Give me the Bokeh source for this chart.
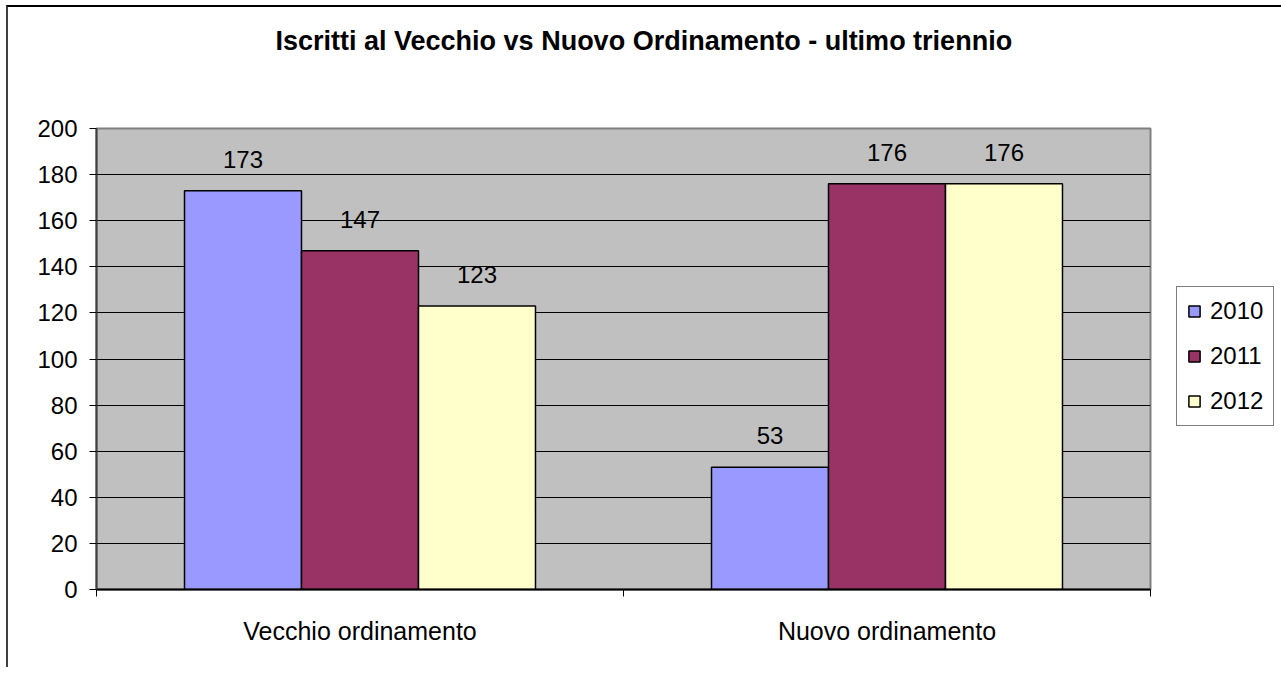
from bokeh.plotting import figure
from bokeh.models import (ColumnDataSource, Range1d, FixedTicker, Title,
                          SingleIntervalTicker, Legend, LegendItem)
from bokeh.transform import dodge
from bokeh.core.properties import value
from bokeh.embed import file_html
from bokeh.resources import INLINE

title_text = "Iscritti al Vecchio vs Nuovo Ordinamento - ultimo triennio"
categories = ["Vecchio ordinamento", "Nuovo ordinamento"]
years = ["2010", "2011", "2012"]
v2010 = [173, 53]
v2011 = [147, 176]
v2012 = [123, 176]
colors = ["#9999FF", "#993366", "#FFFFCC"]

FONT = "Liberation Sans"

ncat = len(categories)
centers = [i + 0.5 for i in range(ncat)]

src = ColumnDataSource(dict(
    xc=centers,
    y2010=v2010, y2011=v2011, y2012=v2012,
    t2010=[str(v) for v in v2010], t2011=[str(v) for v in v2011], t2012=[str(v) for v in v2012],
))

p = figure(width=1270, height=660, x_range=Range1d(0, ncat), y_range=Range1d(0, 200),
           output_backend="svg", toolbar_location=None,
           min_border_left=88, min_border_top=121, min_border_right=128, min_border_bottom=78)
p.frame_width = 1054
p.frame_height = 461

p.background_fill_color = "#C0C0C0"
p.border_fill_color = "white"
p.outline_line_color = "#808080"
p.outline_line_width = 2
p.styles = {"margin-left": "6px", "margin-top": "5px",
            "border-left": "2px solid #404040", "border-top": "2px solid #000000"}

p.title.text = title_text
p.title.align = "left"
p.title.offset = 179
p.title.standoff = 10
p.title.text_font = FONT
p.title.text_font_size = "27px"
p.title.text_font_style = "bold"
p.title.text_color = "black"

# empty spacer between the title and the plot area
spacer = Title(text=" ", text_font_size="10px", standoff=55)
p.add_layout(spacer, "above")

# y axis
ya = p.yaxis[0]
ya.ticker = SingleIntervalTicker(interval=20)
ya.minor_tick_line_color = None
ya.major_tick_out = 7
ya.major_tick_in = 0
ya.major_label_standoff = 12
ya.major_label_text_font = FONT
ya.major_label_text_font_size = "24px"
ya.major_label_text_color = "black"
ya.axis_line_color = "#404040"
ya.axis_line_width = 2
ya.major_tick_line_color = "black"

p.ygrid.grid_line_color = "black"
p.ygrid.grid_line_width = 1
p.xgrid.grid_line_color = None

# x axis: ticks at category boundaries, labels at centers
xa = p.xaxis[0]
xa.ticker = FixedTicker(ticks=centers, minor_ticks=list(range(ncat + 1)))
xa.major_label_overrides = {c: name for c, name in zip(centers, categories)}
xa.major_tick_out = 0
xa.major_tick_in = 0
xa.minor_tick_out = 7
xa.minor_tick_in = 0
xa.minor_tick_line_color = "black"
xa.axis_line_color = "black"
xa.axis_line_width = 2
xa.major_label_standoff = 20
xa.major_label_text_font = FONT
xa.major_label_text_font_size = "25px"
xa.major_label_text_color = "black"

bw = 0.222
items = []
for i, yr in enumerate(years):
    off = (i - 1) * bw
    r = p.vbar(x=dodge("xc", off), top="y" + yr, width=bw, source=src,
               fill_color=colors[i], line_color="black", line_width=1.5)
    p.text(x=dodge("xc", off), y="y" + yr, text="t" + yr, source=src,
           text_align="center", text_baseline="bottom", y_offset=-23,
           text_font=value(FONT), text_font_size="24px", text_color="black")
    items.append(LegendItem(label=yr, renderers=[r]))

legend = Legend(items=items, location=(26, 163), orientation="vertical")
legend.margin = 0
legend.padding = 10
legend.spacing = 17
legend.glyph_width = 14
legend.glyph_height = 14
legend.label_height = 26
legend.label_standoff = 9
legend.label_text_font = FONT
legend.label_text_font_size = "24px"
legend.label_text_color = "black"
legend.border_line_color = "black"
legend.border_line_width = 1
legend.background_fill_color = "white"
legend.background_fill_alpha = 1
p.add_layout(legend, "right")

open("out.html", "w").write(file_html(p, INLINE))
